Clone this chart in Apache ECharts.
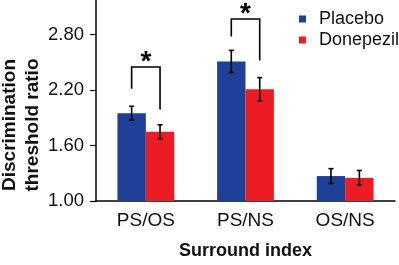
<!DOCTYPE html>
<html>
<head>
<meta charset="utf-8">
<script src="https://cdn.jsdelivr.net/npm/echarts@6/dist/echarts.min.js"></script>
<style>
  html, body { margin: 0; padding: 0; background: #fff; }
  #chart { width: 399px; height: 265px; }
</style>
</head>
<body>
<div id="chart"></div>
<script>
    // values
    var categories = ['PS/OS', 'PS/NS', 'OS/NS'];
    var placebo = [1.95, 2.51, 1.27];
    var placeboErr = [0.075, 0.12, 0.08];
    var donepezil = [1.75, 2.21, 1.25];
    var donepezilErr = [0.075, 0.125, 0.08];
    var yTicks = [1.0, 1.6, 2.2, 2.8];

    // significance brackets (category index, top, left leg end, right leg end)
    var sigIndex = [0, 1];
    var sigTop = [2.45, 2.97];
    var sigLeftEnd = [2.215, 2.78];
    var sigRightEnd = [1.99, 2.52];

    var blue = '#1f4097';
    var red = '#ec1c24';
    var font = '"Liberation Sans", Arial, Helvetica, sans-serif';
    var catGap = 0.43;

    function barOffset (api, side) {
        var band = api.size([1, 0])[0];
        var w = band * (1 - catGap) / 2;
        return side * w / 2;
    }

    function errorItem (side) {
        return function (params, api) {
            var i = api.value(0);
            var v = api.value(1);
            var e = api.value(2);
            var off = barOffset(api, side);
            var hi = api.coord([i, v + e]);
            var lo = api.coord([i, v - e]);
            var x = hi[0] + off;
            var cap = 2.5;
            var st = { stroke: '#000', lineWidth: 1.6 };
            return {
                type: 'group',
                children: [
                    { type: 'line', shape: { x1: x, y1: hi[1], x2: x, y2: lo[1] }, style: st },
                    { type: 'line', shape: { x1: x - cap, y1: hi[1], x2: x + cap, y2: hi[1] }, style: st },
                    { type: 'line', shape: { x1: x - cap, y1: lo[1], x2: x + cap, y2: lo[1] }, style: st }
                ]
            };
        };
    }

    var placeboErrData = placebo.map(function (v, i) { return [i, v, placeboErr[i]]; });
    var donepezilErrData = donepezil.map(function (v, i) { return [i, v, donepezilErr[i]]; });
    var sigData = sigIndex.map(function (c, k) { return [c, sigTop[k], sigLeftEnd[k], sigRightEnd[k]]; });

    var chart = echarts.init(document.getElementById('chart'));
    var option = {
        animation: false,
        textStyle: { fontFamily: font },
        grid: { left: 96, right: 4, top: 0, bottom: 61, containLabel: false },
        legend: {
            orient: 'vertical',
            left: 294,
            top: 5,
            icon: 'rect',
            itemWidth: 7,
            itemHeight: 7,
            itemGap: 3,
            textStyle: { fontSize: 18, color: '#111', fontFamily: font, padding: [0, 0, 0, 8] },
            data: ['Placebo', 'Donepezil']
        },
        xAxis: {
            type: 'category',
            data: categories,
            name: 'Surround index',
            nameLocation: 'middle',
            nameGap: 41,
            nameTextStyle: { fontSize: 18, fontWeight: 'bold', color: '#111', fontFamily: font },
            axisLine: { lineStyle: { color: '#000', width: 1.5 } },
            axisTick: { show: false },
            axisLabel: { fontSize: 19, color: '#111', margin: 10, fontFamily: font }
        },
        yAxis: {
            type: 'value',
            min: 1.0,
            max: 3.175,
            interval: 0.6,
            splitLine: { show: false },
            axisLine: { show: true, lineStyle: { color: '#000', width: 1.5 } },
            axisTick: { show: true, length: 6, customValues: yTicks, lineStyle: { color: '#000', width: 1.2 } },
            axisLabel: {
                fontSize: 18.5, color: '#111', margin: 12, fontFamily: font,
                customValues: yTicks,
                formatter: function (v) { return v.toFixed(2); }
            }
        },
        graphic: [
            {
                type: 'text',
                x: 21.5,
                y: 125,
                rotation: Math.PI / 2,
                style: {
                    text: 'Discrimination\nthreshold ratio',
                    font: 'bold 19px ' + font,
                    fill: '#111',
                    align: 'center',
                    verticalAlign: 'middle',
                    lineHeight: 23
                }
            }
        ],
        series: [
            {
                name: 'Placebo',
                type: 'bar',
                data: placebo,
                barGap: 0,
                barCategoryGap: (catGap * 100) + '%',
                itemStyle: { color: blue }
            },
            {
                name: 'Donepezil',
                type: 'bar',
                data: donepezil,
                barGap: 0,
                barCategoryGap: (catGap * 100) + '%',
                itemStyle: { color: red }
            },
            {
                type: 'custom',
                renderItem: errorItem(-1),
                data: placeboErrData,
                z: 5
            },
            {
                type: 'custom',
                renderItem: errorItem(1),
                data: donepezilErrData,
                z: 5
            },
            {
                type: 'custom',
                data: sigData,
                z: 5,
                renderItem: function (params, api) {
                    var i = api.value(0);
                    var xl = api.coord([i, 0])[0] + barOffset(api, -1);
                    var xr = api.coord([i, 0])[0] + barOffset(api, 1);
                    var yt = api.coord([i, api.value(1)])[1];
                    var yl = api.coord([i, api.value(2)])[1];
                    var yr = api.coord([i, api.value(3)])[1];
                    return {
                        type: 'group',
                        children: [
                            {
                                type: 'polyline',
                                shape: { points: [[xl, yl], [xl, yt], [xr, yt], [xr, yr]] },
                                style: { stroke: '#000', lineWidth: 1.6, fill: null }
                            },
                            {
                                type: 'text',
                                x: (xl + xr) / 2,
                                y: yt - 5,
                                style: {
                                    text: '*',
                                    font: 'bold 28px ' + font,
                                    fill: '#000',
                                    align: 'center',
                                    verticalAlign: 'middle'
                                }
                            }
                        ]
                    };
                }
            }
        ]
    };
    chart.setOption(option);
</script>
</body>
</html>
